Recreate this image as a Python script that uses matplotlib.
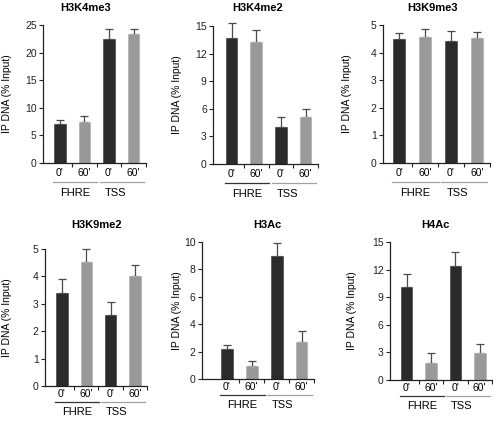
#!/usr/bin/env python3
"""
ChIP panels: histone marks at FHRE and TSS, 0' vs 60'.
Writes out.png (493x422).
"""

import matplotlib
matplotlib.use("Agg")
import matplotlib.pyplot as plt

plt.rcParams["font.family"] = ["Liberation Sans", "DejaVu Sans"]

W, H = 493, 422

# ── Data ────────────────────────────────────────────────────────────────
titles = ["H3K4me3", "H3K4me2", "H3K9me3", "H3K9me2", "H3Ac", "H4Ac"]
time_labels = ["0'", "60'", "0'", "60'"]
groups = ["FHRE", "TSS"]

h3k4me3 = [7.1, 7.35, 22.4, 23.4]
h3k4me3_err = [0.7, 1.15, 1.8, 0.8]
h3k4me2 = [13.75, 13.3, 4.05, 5.15]
h3k4me2_err = [1.55, 1.25, 1.1, 0.8]
h3k9me3 = [4.48, 4.55, 4.43, 4.53]
h3k9me3_err = [0.24, 0.29, 0.37, 0.23]
h3k9me2 = [3.41, 4.54, 2.59, 4.02]
h3k9me2_err = [0.48, 0.46, 0.48, 0.39]
h3ac = [2.18, 0.97, 8.96, 2.71]
h3ac_err = [0.31, 0.36, 0.99, 0.78]
h4ac = [10.1, 1.88, 12.36, 2.93]
h4ac_err = [1.42, 1.02, 1.54, 0.98]

y_max = [25, 15, 5, 5, 10, 15]
y_step = [5, 3, 1, 1, 2, 3]

# ── Layout (pixels: left, top, right, bottom) ──────────────────────────
rects = [
    (43, 25, 146, 163),
    (213, 26, 318, 164),
    (383, 25, 490, 163),
    (45, 249, 147, 386),
    (202, 242, 314, 379),
    (390, 242, 492, 380),
]
x_left = [-0.68, -0.75, -0.62, -0.7, -1.0, -0.68]
# distance from y axis to the centre of the y label
ylabel_off = [36, 36, 36, 38, 25, 38]
title_x = [86, 258, 433, 97, 267, 435]
title_y = [8, 8, 8, 225, 225, 225]
# offsets below the x axis: time labels, underline, group labels
row_offsets = [(10, 19, 30)] * 3 + [(8, 16, 26)] * 3
line_colors = [("#a0a0a0", "#a0a0a0"), ("#333333", "#a0a0a0"),
               ("#a0a0a0", "#a0a0a0"), ("#333333", "#a0a0a0"),
               ("#333333", "#a0a0a0"), ("#333333", "#a0a0a0")]

DARK, LIGHT = "#2b2b2b", "#999999"
FS = 7.5


def panel(fig, i, vals, errs):
    l, t, r, b = rects[i]
    ax = fig.add_axes([l / W, 1 - b / H, (r - l) / W, (b - t) / H])
    x = range(len(vals))
    colors = [DARK, LIGHT, DARK, LIGHT]
    edges = ["#555555", "#b5b5b5", "#555555", "#b5b5b5"]
    ax.bar(x, vals, width=0.47, color=colors, edgecolor=edges,
           linewidth=0.6, zorder=2)
    eb = ax.errorbar(x, vals, yerr=[[0] * len(errs), errs], fmt="none",
                     ecolor="#4a4a4a", elinewidth=0.9, capsize=2.8,
                     capthick=0.9, zorder=1)
    # caps may poke above the top of the axis (H3K4me2)
    for art in eb.lines[1] + eb.lines[2]:
        art.set_clip_on(False)

    ax.set_xlim(x_left[i], 3.5)
    ax.set_ylim(0, y_max[i])
    ax.set_yticks(range(0, y_max[i] + 1, y_step[i]))
    ax.set_xticks([0.5, 1.5, 2.5, 3.5])
    ax.set_xticklabels([])
    ax.tick_params(axis="both", labelsize=FS, length=3, width=0.8,
                   colors="#222222", pad=1.5)
    for s in ["top", "right"]:
        ax.spines[s].set_visible(False)
    for s in ["left", "bottom"]:
        ax.spines[s].set_linewidth(0.9)
        ax.spines[s].set_color("#222222")

    # label anchor is the text's right edge after rotation, ~5 px from centre
    ax.set_ylabel("IP DNA (% Input)", fontsize=FS)
    ax.yaxis.set_label_coords(-(ylabel_off[i] - 5) / (r - l), 0.5)

    # time labels, group underlines and group names, in pixel offsets
    ph = b - t
    o1, o2, o3 = row_offsets[i]
    tr = ax.get_xaxis_transform()
    for xi, lab in zip(x, time_labels):
        ax.text(xi, -o1 / ph, lab, transform=tr, ha="center", va="center",
                fontsize=FS, clip_on=False)
    ax.plot([-0.28, 1.52], [-o2 / ph] * 2, transform=tr,
            color=line_colors[i][0], lw=0.9, clip_on=False)
    ax.plot([1.62, 3.4], [-o2 / ph] * 2, transform=tr,
            color=line_colors[i][1], lw=0.9, clip_on=False)
    ax.text(0.62, -o3 / ph, groups[0], transform=tr, ha="center",
            va="center", fontsize=FS + 0.5, clip_on=False)
    ax.text(2.25, -o3 / ph, groups[1], transform=tr, ha="center",
            va="center", fontsize=FS + 0.5, clip_on=False)

    fig.text(title_x[i] / W, 1 - title_y[i] / H, titles[i], ha="center",
             va="center", fontsize=FS + 0.5, fontweight="bold")
    return ax


if __name__ == "__main__":
    fig = plt.figure(figsize=(W / 100, H / 100), dpi=100)
    series = [(h3k4me3, h3k4me3_err), (h3k4me2, h3k4me2_err),
              (h3k9me3, h3k9me3_err), (h3k9me2, h3k9me2_err),
              (h3ac, h3ac_err), (h4ac, h4ac_err)]
    for i, (v, e) in enumerate(series):
        panel(fig, i, v, e)
    fig.savefig("out.png", dpi=100)
    plt.close(fig)
